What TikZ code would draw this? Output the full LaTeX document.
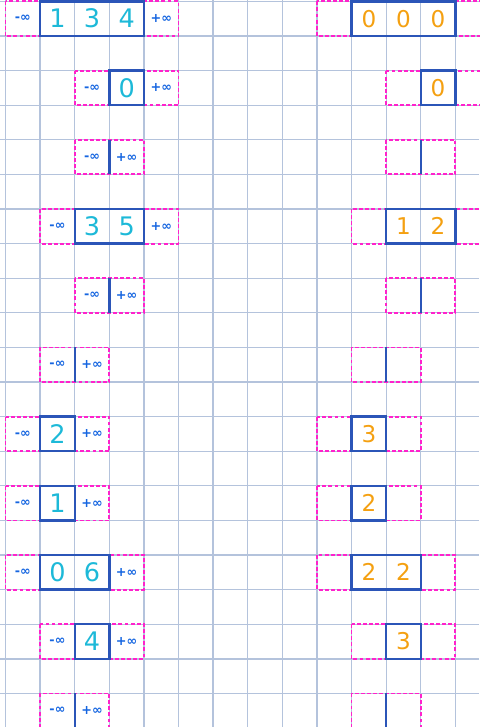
\documentclass[tikz,border=0pt]{standalone}
\usepackage{fontspec}
\setmainfont{DejaVu Sans}
\definecolor{gridblue}{HTML}{B4C3DC}
\definecolor{boxblue}{HTML}{2B55B8}
\definecolor{dashpink}{HTML}{FF22CC}
\definecolor{infblue}{HTML}{1565E0}
\definecolor{leftdigit}{HTML}{1DB9D8}
\definecolor{rightdigit}{HTML}{F4A011}
\tikzset{
  gridline/.style={gridblue, line width=1.1pt},
  padding/.style={dashpink, line width=1.5pt, dash pattern=on 3.2pt off 1.8pt},
  arrbox/.style={boxblue, line width=2pt},
  infty/.style={infblue, font=\bfseries\fontsize{10.5}{10.5}\selectfont, inner sep=0pt},
  lnum/.style={leftdigit, font=\fontsize{21}{21}\selectfont, inner sep=0pt},
  rnum/.style={rightdigit, font=\fontsize{19}{19}\selectfont, inner sep=0pt}
}
\begin{document}
\begin{tikzpicture}[x=1cm, y=-1cm]
		\useasboundingbox (-0.16,-0.04) rectangle (13.69,20.97);

		% squared paper
		\draw [gridline] (-0.16,-0.04) grid (13.69,20.97);

		% left column
		\draw [padding] (0,0) rectangle (5,1);
		\draw [arrbox] (1,0) rectangle (4,1);
		\node [infty] (l0m) at (0.5,0.5) {-∞};
		\node [lnum] (l0a) at (1.5,0.5) {1};
		\node [lnum] (l0b) at (2.5,0.5) {3};
		\node [lnum] (l0c) at (3.5,0.5) {4};
		\node [infty] (l0p) at (4.5,0.5) {+∞};

		\draw [padding] (2,2) rectangle (5,3);
		\draw [arrbox] (3,2) rectangle (4,3);
		\node [infty] (l2m) at (2.5,2.5) {-∞};
		\node [lnum] (l2a) at (3.5,2.5) {0};
		\node [infty] (l2p) at (4.5,2.5) {+∞};

		\draw [padding] (2,4) rectangle (4,5);
		\draw [arrbox] (3,4) -- (3,5);
		\node [infty] (l4m) at (2.5,4.5) {-∞};
		\node [infty] (l4p) at (3.5,4.5) {+∞};

		\draw [padding] (1,6) rectangle (5,7);
		\draw [arrbox] (2,6) rectangle (4,7);
		\node [infty] (l6m) at (1.5,6.5) {-∞};
		\node [lnum] (l6a) at (2.5,6.5) {3};
		\node [lnum] (l6b) at (3.5,6.5) {5};
		\node [infty] (l6p) at (4.5,6.5) {+∞};

		\draw [padding] (2,8) rectangle (4,9);
		\draw [arrbox] (3,8) -- (3,9);
		\node [infty] (l8m) at (2.5,8.5) {-∞};
		\node [infty] (l8p) at (3.5,8.5) {+∞};

		\draw [padding] (1,10) rectangle (3,11);
		\draw [arrbox] (2,10) -- (2,11);
		\node [infty] (l10m) at (1.5,10.5) {-∞};
		\node [infty] (l10p) at (2.5,10.5) {+∞};

		\draw [padding] (0,12) rectangle (3,13);
		\draw [arrbox] (1,12) rectangle (2,13);
		\node [infty] (l12m) at (0.5,12.5) {-∞};
		\node [lnum] (l12a) at (1.5,12.5) {2};
		\node [infty] (l12p) at (2.5,12.5) {+∞};

		\draw [padding] (0,14) rectangle (3,15);
		\draw [arrbox] (1,14) rectangle (2,15);
		\node [infty] (l14m) at (0.5,14.5) {-∞};
		\node [lnum] (l14a) at (1.5,14.5) {1};
		\node [infty] (l14p) at (2.5,14.5) {+∞};

		\draw [padding] (0,16) rectangle (4,17);
		\draw [arrbox] (1,16) rectangle (3,17);
		\node [infty] (l16m) at (0.5,16.5) {-∞};
		\node [lnum] (l16a) at (1.5,16.5) {0};
		\node [lnum] (l16b) at (2.5,16.5) {6};
		\node [infty] (l16p) at (3.5,16.5) {+∞};

		\draw [padding] (1,18) rectangle (4,19);
		\draw [arrbox] (2,18) rectangle (3,19);
		\node [infty] (l18m) at (1.5,18.5) {-∞};
		\node [lnum] (l18a) at (2.5,18.5) {4};
		\node [infty] (l18p) at (3.5,18.5) {+∞};

		\draw [padding] (1,20) rectangle (3,21);
		\draw [arrbox] (2,20) -- (2,21);
		\node [infty] (l20m) at (1.5,20.5) {-∞};
		\node [infty] (l20p) at (2.5,20.5) {+∞};

		% right column
		\draw [padding] (9,0) rectangle (14,1);
		\draw [arrbox] (10,0) rectangle (13,1);
		\node [rnum] (r0a) at (10.5,0.5) {0};
		\node [rnum] (r0b) at (11.5,0.5) {0};
		\node [rnum] (r0c) at (12.5,0.5) {0};

		\draw [padding] (11,2) rectangle (14,3);
		\draw [arrbox] (12,2) rectangle (13,3);
		\node [rnum] (r2a) at (12.5,2.5) {0};

		\draw [padding] (11,4) rectangle (13,5);
		\draw [arrbox] (12,4) -- (12,5);

		\draw [padding] (10,6) rectangle (14,7);
		\draw [arrbox] (11,6) rectangle (13,7);
		\node [rnum] (r6a) at (11.5,6.5) {1};
		\node [rnum] (r6b) at (12.5,6.5) {2};

		\draw [padding] (11,8) rectangle (13,9);
		\draw [arrbox] (12,8) -- (12,9);

		\draw [padding] (10,10) rectangle (12,11);
		\draw [arrbox] (11,10) -- (11,11);

		\draw [padding] (9,12) rectangle (12,13);
		\draw [arrbox] (10,12) rectangle (11,13);
		\node [rnum] (r12a) at (10.5,12.5) {3};

		\draw [padding] (9,14) rectangle (12,15);
		\draw [arrbox] (10,14) rectangle (11,15);
		\node [rnum] (r14a) at (10.5,14.5) {2};

		\draw [padding] (9,16) rectangle (13,17);
		\draw [arrbox] (10,16) rectangle (12,17);
		\node [rnum] (r16a) at (10.5,16.5) {2};
		\node [rnum] (r16b) at (11.5,16.5) {2};

		\draw [padding] (10,18) rectangle (13,19);
		\draw [arrbox] (11,18) rectangle (12,19);
		\node [rnum] (r18a) at (11.5,18.5) {3};

		\draw [padding] (10,20) rectangle (12,21);
		\draw [arrbox] (11,20) -- (11,21);

		\end{tikzpicture}
\end{document}
